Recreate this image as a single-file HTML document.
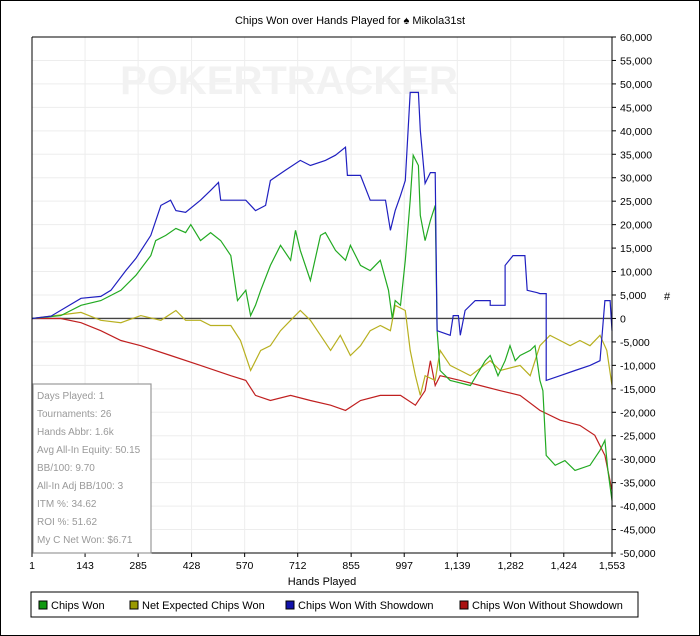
<!DOCTYPE html>
<html><head><meta charset="utf-8"><style>
body{margin:0;background:#fff;font-family:"Liberation Sans",sans-serif;}
#wrap{position:relative;width:698px;height:634px;border:1px solid #000;background:#fff;}
</style></head><body>
<div id="wrap">
<svg id="chart" width="698" height="634" style="position:absolute;left:0;top:0"></svg>
</div>
<script>
const xTicks=[1,143,285,428,570,712,855,997,1139,1282,1424,1553];
const yTicks=[60000,55000,50000,45000,40000,35000,30000,25000,20000,15000,10000,5000,0,-5000,-10000,-15000,-20000,-25000,-30000,-35000,-40000,-45000,-50000];
const blueHands=[1,52,132,185,212,252,279,319,346,372,386,412,452,479,500,506,573,599,626,639,679,719,746,786,813,840,845,880,906,947,960,973,987,1000,1013,1035,1040,1053,1067,1080,1085,1120,1128,1142,1147,1160,1187,1227,1227,1267,1267,1288,1320,1326,1353,1360,1377,1377,1414,1454,1494,1521,1534,1548,1553];
const blueVals=[0,500,4300,4700,6000,10200,12800,17700,24100,25200,23000,22600,25200,27300,29000,25200,25200,23000,24100,29400,31600,33700,32600,33700,34800,36500,30500,30500,25200,25200,18800,23000,26200,29400,48200,48200,40100,28800,31100,31100,-2600,-3600,600,600,-3600,1700,3800,3800,2800,2800,11300,13400,13400,6000,5500,5300,5300,-13200,-12200,-11100,-10000,-9000,3800,3800,-2600];
const greenHands=[1,78,132,185,239,279,319,332,359,386,412,426,452,479,506,533,551,573,586,599,613,639,666,693,706,719,746,773,786,813,840,853,880,906,933,955,965,973,987,1000,1013,1021,1035,1040,1053,1067,1080,1085,1093,1120,1174,1214,1227,1248,1267,1280,1294,1307,1334,1347,1360,1368,1377,1401,1427,1454,1494,1521,1534,1542,1553];
const greenVals=[0,600,2800,3800,6000,9200,13400,16600,17700,19200,18300,20000,16600,18300,16600,13400,3800,6000,600,2800,6000,11300,15600,12400,18800,14500,8100,17700,18300,14500,12400,15600,11300,10200,12400,6000,0,3800,2800,12400,25200,34800,32600,22000,16600,20900,24100,-2600,-11100,-13200,-14300,-9000,-7900,-12200,-9000,-5800,-9000,-7900,-6800,-5800,-13200,-15400,-29200,-31300,-30300,-32400,-31300,-28100,-26000,-32400,-38800];
const yellowHands=[1,132,185,239,292,346,386,412,452,479,533,559,586,613,639,666,693,719,746,773,800,826,853,880,906,933,960,973,1000,1013,1027,1040,1053,1080,1093,1120,1147,1174,1227,1254,1307,1334,1360,1387,1414,1441,1467,1494,1521,1539,1553];
const yellowVals=[0,1300,-400,-900,600,-400,1700,-400,-400,-1500,-1500,-4700,-11100,-6800,-5800,-2600,-400,1700,-400,-3600,-6800,-3600,-7900,-5800,-2600,-1500,-2600,2800,1700,-6800,-12200,-16400,-12200,-13200,-6800,-10000,-11100,-12200,-9000,-11100,-10000,-12200,-5800,-3600,-4700,-5800,-4700,-5800,-3600,-6800,-14300];
const redHands=[1,78,132,185,239,292,372,452,533,573,599,639,693,746,800,840,880,933,987,1027,1053,1067,1080,1093,1147,1200,1254,1307,1360,1414,1467,1507,1534,1553];
const redVals=[0,0,-900,-2600,-4700,-5800,-7900,-10000,-12200,-13200,-16400,-17500,-16400,-17500,-18500,-19600,-17500,-16400,-16400,-18500,-15400,-9000,-14300,-12200,-13200,-14300,-15400,-16400,-19600,-21700,-22800,-24900,-29200,-36700];

const NS='http://www.w3.org/2000/svg';
const svg=document.getElementById('chart');
const L=31,R=611,T=36,B=552;
const X=h=>L+(h-1)/(1553-1)*(R-L);
const Y=v=>T+(60000-v)/110000*(B-T);
function mk(tag,attrs,parent){const e=document.createElementNS(NS,tag);for(const k in attrs)e.setAttribute(k,attrs[k]);(parent||svg).appendChild(e);return e;}
const fmt=v=>v.toLocaleString('en-US');

let t=mk('text',{x:349,y:23,'text-anchor':'middle','font-size':11,fill:'#000'});


t.textContent='Chips Won over Hands Played for ♠ Mikola31st';

mk('rect',{x:L,y:T,width:R-L,height:B-T,fill:'#fff'});
xTicks.forEach(h=>{const l=mk('line',{x1:X(h),x2:X(h),y1:T,y2:B,stroke:'#ededed'});

});
yTicks.forEach(v=>{const l=mk('line',{x1:L,x2:R,y1:Y(v),y2:Y(v),stroke:'#ededed'});

});

let wm=mk('text',{x:288,y:93,'text-anchor':'middle','font-size':40,fill:'#f2f2f2','font-weight':'bold'});


wm.textContent='POKERTRACKER';

mk('line',{x1:L,x2:R,y1:Y(0),y2:Y(0),stroke:'#444','stroke-width':1.3});

function series(h,v,color,name){const p=mk('polyline',{points:h.map((x,i)=>X(x).toFixed(1)+','+Y(v[i]).toFixed(1)).join(' '),fill:'none',stroke:color,'stroke-width':1.2});

}
series(redHands,redVals,'#c02020','series-chips-won-without-showdown');
series(yellowHands,yellowVals,'#b8b020','series-net-expected-chips-won');
series(greenHands,greenVals,'#22aa22','series-chips-won');
series(blueHands,blueVals,'#2020c0','series-chips-won-with-showdown');

mk('line',{x1:L,x2:L,y1:T,y2:B,stroke:'#000'});
mk('line',{x1:L,x2:R,y1:T,y2:T,stroke:'#000'});
mk('line',{x1:R,x2:R,y1:T,y2:B,stroke:'#000'});
mk('line',{x1:L,x2:R,y1:B,y2:B,stroke:'#000'});

yTicks.forEach(v=>{mk('line',{x1:R,x2:R+4,y1:Y(v),y2:Y(v),stroke:'#000'});
const tx=mk('text',{x:R+8,y:Y(v)+4,'font-size':10.5,fill:'#000'});


tx.textContent=fmt(v);});
xTicks.forEach(h=>{mk('line',{x1:X(h),x2:X(h),y1:B,y2:B+4,stroke:'#000'});
const tx=mk('text',{x:X(h),y:B+16,'font-size':10.5,'text-anchor':'middle',fill:'#000'});


tx.textContent=h.toLocaleString('en-US');});

let xl=mk('text',{x:321,y:584,'text-anchor':'middle','font-size':11,fill:'#000'});


xl.textContent='Hands Played';
let yl=mk('text',{x:666,y:299,'text-anchor':'middle','font-size':11,fill:'#000'});


yl.textContent='#';

let sb=mk('rect',{x:32,y:383,width:118,height:169,fill:'#fff',stroke:'#999','stroke-width':1.2});


const stats=['Days Played: 1','Tournaments: 26','Hands Abbr: 1.6k','Avg All-In Equity: 50.15','BB/100: 9.70','All-In Adj BB/100: 3','ITM %: 34.62','ROI %: 51.62','My C Net Won: $6.71'];
stats.forEach((s,i)=>{const tx=mk('text',{x:36,y:398+i*18,'font-size':10,fill:'#999'});


tx.textContent=s;});

let lg=mk('rect',{x:30,y:591,width:607,height:25,fill:'#fff',stroke:'#000'});


const legNames=['Chips Won','Net Expected Chips Won','Chips Won With Showdown','Chips Won Without Showdown'];
const legColors=['#119911','#999900','#1111aa','#aa1111'];
const legX=[38,129,285,459];
legNames.forEach((n,i)=>{const r=mk('rect',{x:legX[i],y:600,width:8,height:8,fill:legColors[i],stroke:'#000'});


const tx=mk('text',{x:legX[i]+12,y:608,'font-size':11,fill:'#000'});


tx.textContent=n;});
</script>
</body></html>
